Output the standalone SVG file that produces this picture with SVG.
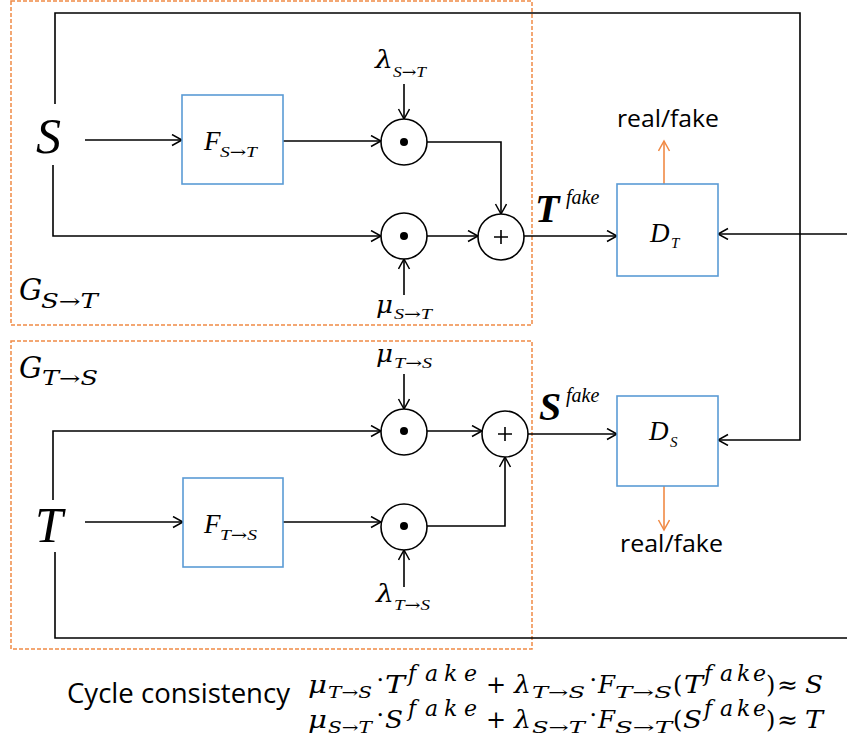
<svg xmlns="http://www.w3.org/2000/svg" width="847" height="749" viewBox="0 0 847 749">
<defs>
<marker id="arr" markerUnits="userSpaceOnUse" markerWidth="14" markerHeight="14" refX="11" refY="6" orient="auto">
<path d="M1,0.5 L11,6 L1,11.5" fill="none" stroke="#000" stroke-width="1.5"/>
</marker>
<marker id="arro" markerUnits="userSpaceOnUse" markerWidth="14" markerHeight="14" refX="11" refY="6" orient="auto">
<path d="M1,0.5 L11,6 L1,11.5" fill="none" stroke="#F08A45" stroke-width="1.5"/>
</marker>
<style>
.ln{fill:none;stroke:#000;stroke-width:1.6}
.ar{marker-end:url(#arr)}
.ol{fill:none;stroke:#F08A45;stroke-width:1.6;marker-end:url(#arro)}
.grp{fill:none;stroke:#F08A45;stroke-width:1.5;stroke-dasharray:4 2}
.box{fill:#fff;stroke:#5B9BD5;stroke-width:1.6}
.op{fill:#fff;stroke:#000;stroke-width:1.6}
.dot{fill:#000}
.ti{font-family:"Liberation Serif",serif;font-style:italic;fill:#000}
.mi{font-family:"DejaVu Serif",serif;font-style:italic;fill:#000}
.mn{font-family:"DejaVu Serif",serif;fill:#000}
.sa{font-family:"Open Sans","Noto Sans",sans-serif;fill:#000}
.up{font-style:normal}
.ua{font-style:normal;font-family:"DejaVu Serif",serif}
.sub{font-family:"Liberation Serif",serif;font-style:italic;font-size:15px;fill:#000}
.gr{font-family:"DejaVu Serif",serif;font-style:italic;font-size:25px;fill:#000}
</style>
</defs>

<g id="group-G-S-T">
<rect class="grp" x="11" y="1" width="521" height="324"/>
<text class="mi" x="19" y="300" font-size="29">G<tspan x="41" y="308" font-size="20" textLength="57" lengthAdjust="spacingAndGlyphs">S<tspan class="up">→</tspan>T</tspan></text>
</g>
<g id="group-G-T-S">
<rect class="grp" x="11" y="341" width="521" height="308"/>
<text class="mi" x="19" y="378" font-size="29">G<tspan x="42" y="385" font-size="20" textLength="56" lengthAdjust="spacingAndGlyphs">T<tspan class="up">→</tspan>S</tspan></text>
</g>

<g id="connectors">
<path class="ln ar" d="M85,140 H182"/>
<path class="ln ar" d="M283,141 H381"/>
<path class="ln ar" d="M404,84 V119"/>
<path class="ln ar" d="M427,142 H501 V214"/>
<path class="ln ar" d="M53,165 V236 H381"/>
<path class="ln ar" d="M427,236 H478"/>
<path class="ln ar" d="M404,295 V259"/>
<path class="ln ar" d="M524,236 H617"/>
<path class="ln ar" d="M55,104 V13 H800 V440 H718"/>
<path class="ln ar" d="M847,234 H718"/>
<path class="ol" d="M664,184 V141"/>
<path class="ln ar" d="M85,522 H183"/>
<path class="ln ar" d="M283,522 H381"/>
<path class="ln ar" d="M404,587 V550"/>
<path class="ln ar" d="M427,526 H505 V457"/>
<path class="ln ar" d="M53,500 V431 H381"/>
<path class="ln ar" d="M404,374 V409"/>
<path class="ln ar" d="M427,431 H482"/>
<path class="ln ar" d="M528,434 H617"/>
<path class="ln" d="M55,552 V638 H847"/>
<path class="ol" d="M664,486 V530"/>
</g>

<g id="node-S">
<text class="ti" x="36" y="153" font-size="50">S</text>
</g>
<g id="node-T">
<text class="ti" x="35" y="542" font-size="50">T</text>
</g>

<g id="node-F-S-T">
<rect class="box" x="182" y="95" width="101" height="89"/>
<text class="ti" x="204" y="150" font-size="27">F</text>
<text class="sub" x="220" y="157" textLength="37" lengthAdjust="spacingAndGlyphs">S<tspan class="ua">→</tspan>T</text>
</g>
<g id="node-F-T-S">
<rect class="box" x="183" y="478" width="100" height="89"/>
<text class="ti" x="204" y="533" font-size="27">F</text>
<text class="sub" x="220" y="540" textLength="37" lengthAdjust="spacingAndGlyphs">T<tspan class="ua">→</tspan>S</text>
</g>

<g id="node-mul-lambda-S-T">
<circle class="op" cx="404" cy="142" r="23"/>
<circle class="dot" cx="404" cy="142" r="4"/>
<text class="gr" x="375" y="68" textLength="18" lengthAdjust="spacingAndGlyphs">λ</text>
<text class="sub" x="393" y="77" textLength="33" lengthAdjust="spacingAndGlyphs">S<tspan class="ua">→</tspan>T</text>
</g>
<g id="node-mul-mu-S-T">
<circle class="op" cx="404" cy="236" r="23"/>
<circle class="dot" cx="404" cy="236" r="4"/>
<text class="gr" x="376" y="313" textLength="17" lengthAdjust="spacingAndGlyphs">μ</text>
<text class="sub" x="394" y="319" textLength="38" lengthAdjust="spacingAndGlyphs">S<tspan class="ua">→</tspan>T</text>
</g>
<g id="node-plus-S-T">
<circle class="op" cx="501" cy="237" r="23"/>
<path class="ln" d="M494,237 H508 M501,230 V244"/>
</g>

<g id="node-mul-mu-T-S">
<circle class="op" cx="404" cy="432" r="23"/>
<circle class="dot" cx="404" cy="431" r="4"/>
<text class="gr" x="376" y="362" textLength="17" lengthAdjust="spacingAndGlyphs">μ</text>
<text class="sub" x="394" y="368" textLength="38" lengthAdjust="spacingAndGlyphs">T<tspan class="ua">→</tspan>S</text>
</g>
<g id="node-plus-T-S">
<circle class="op" cx="505" cy="434" r="23"/>
<path class="ln" d="M498,434 H512 M505,427 V441"/>
</g>
<g id="node-mul-lambda-T-S">
<circle class="op" cx="404" cy="527" r="23"/>
<circle class="dot" cx="404" cy="526" r="4"/>
<text class="gr" x="376" y="602" textLength="18" lengthAdjust="spacingAndGlyphs">λ</text>
<text class="sub" x="394" y="610" textLength="36" lengthAdjust="spacingAndGlyphs">T<tspan class="ua">→</tspan>S</text>
</g>

<g id="label-T-fake">
<text class="ti" x="535" y="222" font-size="40" font-weight="bold">T</text>
<text class="ti" x="566" y="204" font-size="20">fake</text>
</g>
<g id="label-S-fake">
<text class="ti" x="539" y="420" font-size="40" font-weight="bold">S</text>
<text class="ti" x="566" y="402" font-size="20">fake</text>
</g>

<g id="node-D-T">
<rect class="box" x="617" y="184" width="101" height="92"/>
<text class="ti" x="650" y="242" font-size="27">D</text>
<text class="sub" x="671" y="248">T</text>
</g>
<g id="node-D-S">
<rect class="box" x="617" y="396" width="101" height="90"/>
<text class="ti" x="649" y="440" font-size="27">D</text>
<text class="sub" x="670" y="447">S</text>
</g>

<g id="out-real-fake-T">
<text class="sa" x="617" y="127" font-size="23" textLength="102" lengthAdjust="spacingAndGlyphs">real/fake</text>
</g>
<g id="out-real-fake-S">
<text class="sa" x="620" y="552" font-size="23" textLength="103" lengthAdjust="spacingAndGlyphs">real/fake</text>
</g>

<g id="cycle-consistency">
<text class="sa" x="67" y="703" font-size="27" textLength="223" lengthAdjust="spacingAndGlyphs">Cycle consistency</text>

<text class="mi" x="308" y="693" font-size="24" textLength="19" lengthAdjust="spacingAndGlyphs">μ</text>
<text class="mi" x="328" y="698" font-size="16" textLength="44" lengthAdjust="spacingAndGlyphs">T<tspan class="up">→</tspan>S</text>
<text class="mn" x="380" y="688" font-size="24" text-anchor="middle">⋅</text>
<text class="mi" x="385" y="693" font-size="24" textLength="20" lengthAdjust="spacingAndGlyphs">T</text>
<text class="mi" y="681" font-size="22"><tspan x="408">f</tspan><tspan x="425">a</tspan><tspan x="444">k</tspan><tspan x="464">e</tspan></text>
<text class="mn" x="496" y="693" font-size="24" text-anchor="middle">+</text>
<text class="mi" x="514" y="693" font-size="24" textLength="17" lengthAdjust="spacingAndGlyphs">λ</text>
<text class="mi" x="532" y="698" font-size="16" textLength="53" lengthAdjust="spacingAndGlyphs">T<tspan class="up">→</tspan>S</text>
<text class="mn" x="593" y="688" font-size="24" text-anchor="middle">⋅</text>
<text class="mi" x="598" y="693" font-size="24" textLength="17" lengthAdjust="spacingAndGlyphs">F</text>
<text class="mi" x="615" y="698" font-size="16" textLength="57" lengthAdjust="spacingAndGlyphs">T<tspan class="up">→</tspan>S</text>
<text class="mn" x="673" y="693" font-size="24">(</text>
<text class="mi" x="684" y="693" font-size="24" textLength="19" lengthAdjust="spacingAndGlyphs">T</text>
<text class="mi" y="681" font-size="22"><tspan x="704">f</tspan><tspan x="720">a</tspan><tspan x="737">k</tspan><tspan x="753">e</tspan></text>
<text class="mn" x="766" y="693" font-size="24">)</text>
<text class="mn" x="777" y="693" font-size="24" textLength="21" lengthAdjust="spacingAndGlyphs">≈</text>
<text class="mi" x="805" y="693" font-size="24" textLength="18" lengthAdjust="spacingAndGlyphs">S</text>

<text class="mi" x="308" y="728" font-size="24" textLength="19" lengthAdjust="spacingAndGlyphs">μ</text>
<text class="mi" x="328" y="733" font-size="16" textLength="44" lengthAdjust="spacingAndGlyphs">S<tspan class="up">→</tspan>T</text>
<text class="mn" x="380" y="723" font-size="24" text-anchor="middle">⋅</text>
<text class="mi" x="385" y="728" font-size="24" textLength="18" lengthAdjust="spacingAndGlyphs">S</text>
<text class="mi" y="716" font-size="22"><tspan x="408">f</tspan><tspan x="425">a</tspan><tspan x="444">k</tspan><tspan x="464">e</tspan></text>
<text class="mn" x="496" y="728" font-size="24" text-anchor="middle">+</text>
<text class="mi" x="514" y="728" font-size="24" textLength="17" lengthAdjust="spacingAndGlyphs">λ</text>
<text class="mi" x="532" y="733" font-size="16" textLength="53" lengthAdjust="spacingAndGlyphs">S<tspan class="up">→</tspan>T</text>
<text class="mn" x="593" y="723" font-size="24" text-anchor="middle">⋅</text>
<text class="mi" x="598" y="728" font-size="24" textLength="17" lengthAdjust="spacingAndGlyphs">F</text>
<text class="mi" x="615" y="733" font-size="16" textLength="57" lengthAdjust="spacingAndGlyphs">S<tspan class="up">→</tspan>T</text>
<text class="mn" x="673" y="728" font-size="24">(</text>
<text class="mi" x="683" y="728" font-size="24" textLength="19" lengthAdjust="spacingAndGlyphs">S</text>
<text class="mi" y="716" font-size="22"><tspan x="704">f</tspan><tspan x="720">a</tspan><tspan x="737">k</tspan><tspan x="753">e</tspan></text>
<text class="mn" x="766" y="728" font-size="24">)</text>
<text class="mn" x="777" y="728" font-size="24" textLength="21" lengthAdjust="spacingAndGlyphs">≈</text>
<text class="mi" x="805" y="728" font-size="24" textLength="18" lengthAdjust="spacingAndGlyphs">T</text>
</g>
</svg>
